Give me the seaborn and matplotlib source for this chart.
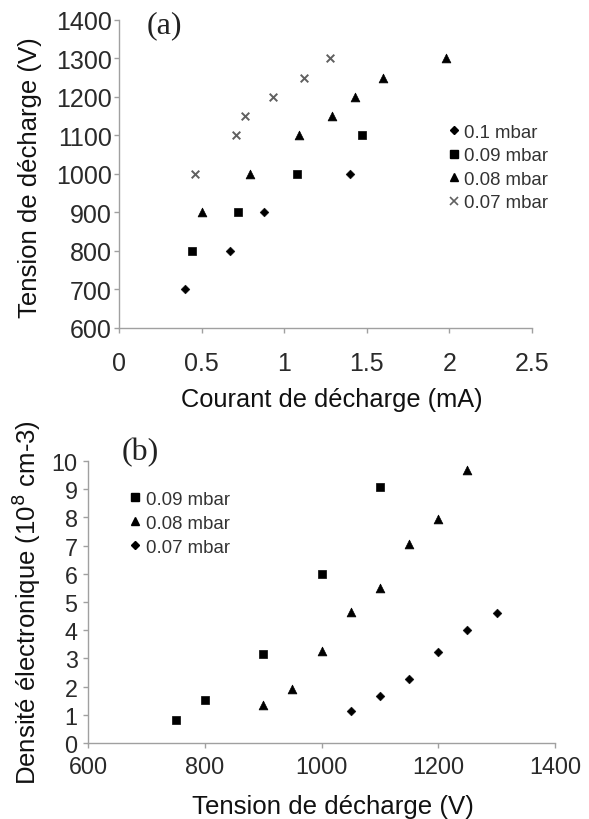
import matplotlib
matplotlib.use("Agg")
import matplotlib.pyplot as plt
import seaborn as sns
import pandas as pd
from matplotlib.lines import Line2D

# ---------------- data (a) ----------------
a_labels = ["0.1 mbar", "0.09 mbar", "0.08 mbar", "0.07 mbar"]
a_I_01 = [0.40, 0.67, 0.88, 1.40]
a_V_01 = [700, 800, 900, 1000]
a_I_009 = [0.44, 0.72, 1.08, 1.47]
a_V_009 = [800, 900, 1000, 1100]
a_I_008 = [0.50, 0.79, 1.09, 1.29, 1.43, 1.60, 1.98]
a_V_008 = [900, 1000, 1100, 1150, 1200, 1250, 1300]
a_I_007 = [0.46, 0.71, 0.76, 0.93, 1.12, 1.28]
a_V_007 = [1000, 1100, 1150, 1200, 1250, 1300]

# ---------------- data (b) ----------------
b_labels = ["0.09 mbar", "0.08 mbar", "0.07 mbar"]
b_V_009 = [750, 800, 900, 1000, 1100]
b_n_009 = [0.80, 1.51, 3.17, 6.0, 9.09]
b_V_008 = [900, 950, 1000, 1050, 1100, 1150, 1200, 1250]
b_n_008 = [1.33, 1.90, 3.28, 4.66, 5.48, 7.06, 7.93, 9.67]
b_V_007 = [1050, 1100, 1150, 1200, 1250, 1300]
b_n_007 = [1.12, 1.65, 2.26, 3.22, 4.01, 4.60]

a_xticks = [0, 0.5, 1, 1.5, 2, 2.5]
a_xticklabels = ["0", "0.5", "1", "1.5", "2", "2.5"]
a_yticks = [600, 700, 800, 900, 1000, 1100, 1200, 1300, 1400]
b_xticks = [600, 800, 1000, 1200, 1400]
b_yticks = list(range(0, 11))

sns.set_theme(style="white")
plt.rcParams['font.family'] = ['Liberation Sans', 'DejaVu Sans']

W, H = 589, 820
fig = plt.figure(figsize=(W / 100, H / 100), dpi=100)

def box(l, r, t, b):
    return [l / W, 1 - b / H, (r - l) / W, (b - t) / H]

axa = fig.add_axes(box(119, 532, 20.7, 329))
axb = fig.add_axes(box(88, 555, 462, 744))

spine_col = "#a0a0a0"
txt_col = "#111111"
tick_col = "#2a2a2a"
grey_x = "#606060"

def df_of(x, y):
    return pd.DataFrame({"x": x, "y": y})

sty = {
    "D": dict(marker="D", s=20),
    "s": dict(marker="s", s=36),
    "^": dict(marker="^", s=40),
    "x": dict(marker="x", s=30),
}

# ----- panel a -----
sns.scatterplot(data=df_of(a_I_01, a_V_01), x="x", y="y", ax=axa, color="black", edgecolor="black", **sty["D"])
sns.scatterplot(data=df_of(a_I_009, a_V_009), x="x", y="y", ax=axa, color="black", edgecolor="black", **sty["s"])
sns.scatterplot(data=df_of(a_I_008, a_V_008), x="x", y="y", ax=axa, color="black", edgecolor="black", **sty["^"])
sns.scatterplot(data=df_of(a_I_007, a_V_007), x="x", y="y", ax=axa, color=grey_x, linewidth=1.4, **sty["x"])

axa.set_xlim(0, 2.5)
axa.set_ylim(600, 1400)
axa.set_xticks(a_xticks)
axa.set_xticklabels(a_xticklabels)
axa.set_yticks(a_yticks)
axa.set_xlabel("Courant de décharge (mA)", fontsize=18.3, color=txt_col)
axa.set_ylabel("Tension de décharge (V)", fontsize=18.5, color=txt_col)
axa.xaxis.set_label_coords((332 - 119) / 413, (329 - 400) / 308.3)
axa.xaxis.label.set_verticalalignment("center")
axa.yaxis.set_label_coords((30 - 119) / 413, 0.49)
axa.yaxis.label.set_verticalalignment("center")
fig.text(147 / W, 1 - 26 / H, "(a)", fontsize=23, family=['Liberation Serif', 'DejaVu Serif'],
         color="#222222", va="center", ha="left")

h_a = [
    Line2D([], [], ls="none", marker="D", ms=4.3, color="black"),
    Line2D([], [], ls="none", marker="s", ms=5.5, color="black"),
    Line2D([], [], ls="none", marker="^", ms=6, color="black"),
    Line2D([], [], ls="none", marker="x", ms=5.5, mew=1.2, color=grey_x),
]
fig.legend(h_a, a_labels, loc="upper left", bbox_to_anchor=(449.5 / W, 1 - 124.5 / H),
           frameon=False, fontsize=13.4, handlelength=0.5, handletextpad=0.27,
           labelspacing=0.35, borderaxespad=0, borderpad=0, labelcolor="#333333")

# ----- panel b -----
sns.scatterplot(data=df_of(b_V_009, b_n_009), x="x", y="y", ax=axb, color="black", edgecolor="black", **sty["s"])
sns.scatterplot(data=df_of(b_V_008, b_n_008), x="x", y="y", ax=axb, color="black", edgecolor="black", **sty["^"])
sns.scatterplot(data=df_of(b_V_007, b_n_007), x="x", y="y", ax=axb, color="black", edgecolor="black", **sty["D"])

axb.set_xlim(600, 1400)
axb.set_ylim(0, 10)
axb.set_xticks(b_xticks)
axb.set_yticks(b_yticks)
axb.set_xlabel("Tension de décharge (V)", fontsize=18.6, color=txt_col)
axb.set_ylabel("Densité électronique (10$^{8}$ cm-3)", fontsize=18.5, color=txt_col)
axb.xaxis.set_label_coords((333 - 88) / 467, (744 - 807) / 282)
axb.xaxis.label.set_verticalalignment("center")
axb.yaxis.set_label_coords((26 - 88) / 467, 0.5)
axb.yaxis.label.set_verticalalignment("center")
fig.text(122 / W, 1 - 453 / H, "(b)", fontsize=23, family=['Liberation Serif', 'DejaVu Serif'],
         color="#222222", va="center", ha="left")

h_b = [
    Line2D([], [], ls="none", marker="s", ms=5.5, color="black"),
    Line2D([], [], ls="none", marker="^", ms=6, color="black"),
    Line2D([], [], ls="none", marker="D", ms=4.3, color="black"),
]
fig.legend(h_b, b_labels, loc="upper left", bbox_to_anchor=(130.5 / W, 1 - 491.5 / H),
           frameon=False, fontsize=13.4, handlelength=0.5, handletextpad=0.33,
           labelspacing=0.38, borderaxespad=0, borderpad=0, labelcolor="#333333")

for ax, fs, xpad, ypad in ((axa, 18, 13, 1.5), (axb, 16.8, 5.5, 4)):
    for side in ("top", "right"):
        ax.spines[side].set_visible(False)
    for side in ("left", "bottom"):
        ax.spines[side].set_color(spine_col)
        ax.spines[side].set_linewidth(1.0)
    ax.tick_params(axis="both", which="major", direction="out", length=3.5, width=1,
                   color=spine_col, labelsize=fs, labelcolor=tick_col,
                   bottom=True, left=True)
    ax.tick_params(axis="x", pad=xpad)
    ax.tick_params(axis="y", pad=ypad)
    ax.set_facecolor("white")
    ax.grid(False)

fig.savefig("out.png", dpi=100, facecolor="white")
